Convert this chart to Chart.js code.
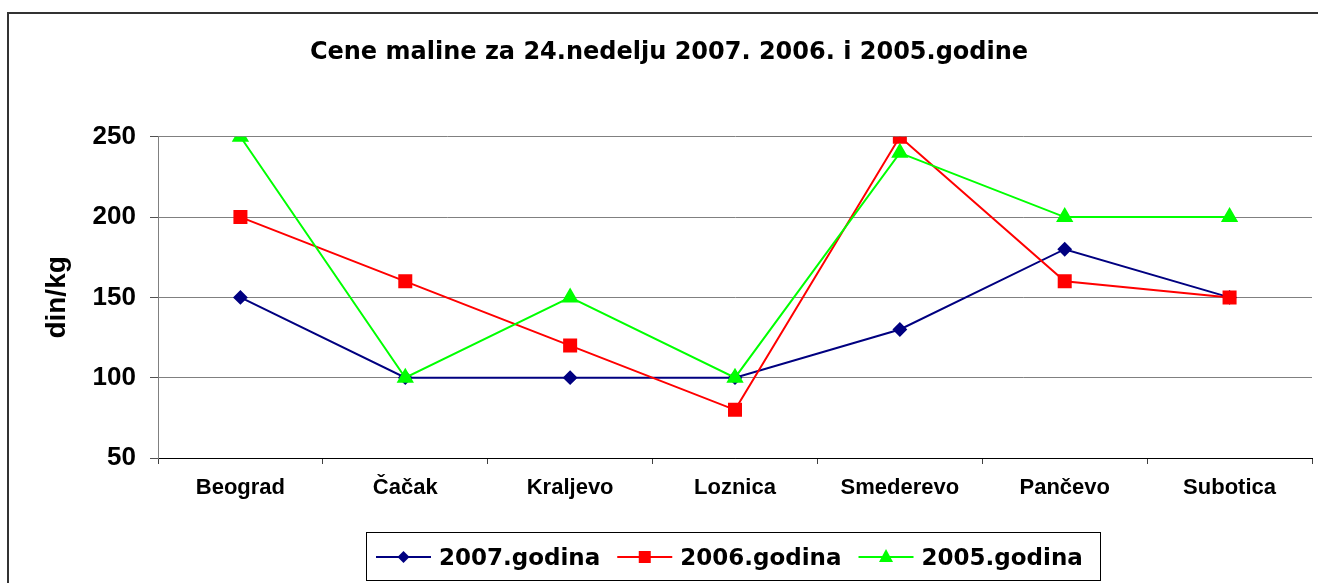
<!DOCTYPE html>
<html>
<head>
<meta charset="utf-8">
<title>Cene maline</title>
<script src="https://cdn.jsdelivr.net/npm/chart.js@4.4.1/dist/chart.umd.min.js"></script>
<style>
  html, body { margin: 0; padding: 0; background: #fff; overflow: hidden; }
  canvas { display: block; }
</style>
</head>
<body>
<canvas id="cene" width="1318" height="583"></canvas>
<script>
// data
var gradovi = ['Beograd', 'Čačak', 'Kraljevo', 'Loznica', 'Smederevo', 'Pančevo', 'Subotica'];
var god2007 = [150, 100, 100, 100, 130, 180, 150];
var god2006 = [200, 160, 120, 80, 250, 160, 150];
var god2005 = [250, 100, 150, 100, 240, 200, 200];
var yTicks = [50, 100, 150, 200, 250];

var ARIAL = "'Liberation Sans', Arial, sans-serif";
var DEJAVU = "'DejaVu Sans', sans-serif";

// outer frame + legend box with line/marker samples
var okvir = {
  id: 'okvir',
  afterDraw: function(chart) {
    var ctx = chart.ctx;
    ctx.save();
    ctx.strokeStyle = '#333';
    ctx.lineWidth = 2;
    ctx.strokeRect(8, 13, 1330, 600);

    // legend
    ctx.strokeStyle = '#000';
    ctx.lineWidth = 1;
    ctx.strokeRect(366.5, 532.5, 734, 48);
    ctx.font = 'bold 23px ' + DEJAVU;
    ctx.textBaseline = 'alphabetic';
    ctx.textAlign = 'left';
    var x = 376, y = 557;
    chart.data.datasets.forEach(function(ds) {
      ctx.strokeStyle = ds.borderColor;
      ctx.lineWidth = 2;
      ctx.beginPath();
      ctx.moveTo(x, y);
      ctx.lineTo(x + 55, y);
      ctx.stroke();
      var cx = x + 27.5;
      ctx.fillStyle = ds.borderColor;
      ctx.beginPath();
      if (ds.pointStyle === 'rectRot') {
        ctx.moveTo(cx, y - 6); ctx.lineTo(cx + 6, y); ctx.lineTo(cx, y + 6); ctx.lineTo(cx - 6, y);
      } else if (ds.pointStyle === 'rect') {
        ctx.rect(cx - 6, y - 6, 12, 12);
      } else {
        ctx.moveTo(cx, y - 8); ctx.lineTo(cx + 7, y + 5); ctx.lineTo(cx - 7, y + 5);
      }
      ctx.closePath();
      ctx.fill();
      x += 63;
      ctx.fillStyle = '#000';
      ctx.fillText(ds.label, x, 565);
      x += ctx.measureText(ds.label).width + 17;
    });
    ctx.restore();
  }
};

new Chart(document.getElementById('cene'), {
  type: 'line',
  data: {
    labels: gradovi,
    datasets: [{
      label: '2007.godina',
      data: god2007,
      borderColor: '#000080',
      backgroundColor: '#000080',
      pointStyle: 'rectRot',
      pointRadius: 6,
      borderWidth: 2,
      order: 3
    }, {
      label: '2006.godina',
      data: god2006,
      borderColor: '#FF0000',
      backgroundColor: '#FF0000',
      pointStyle: 'rect',
      pointRadius: 8.5,
      borderWidth: 2,
      order: 2
    }, {
      label: '2005.godina',
      data: god2005,
      borderColor: '#00FF00',
      backgroundColor: '#00FF00',
      pointStyle: 'triangle',
      pointRadius: 8,
      borderWidth: 2,
      order: 1
    }]
  },
  options: {
    responsive: false,
    animation: false,
    events: [],
    layout: { autoPadding: false, padding: { left: 26, right: 6, top: 0, bottom: 0 } },
    elements: {
      line: { tension: 0, fill: false },
      point: { borderWidth: 1, hoverRadius: 0 }
    },
    scales: {
      x: {
        offset: true,
        grid: { display: true, drawOnChartArea: false, drawTicks: true, tickLength: 6, color: '#404040', offset: true },
        border: { display: true, color: '#000', width: 1 },
        ticks: { color: '#000', font: { family: ARIAL, size: 22, weight: 'bold' }, padding: 11, maxRotation: 0, autoSkip: false },
        afterFit: function(s) { s.height = 125; }
      },
      y: {
        min: 50,
        max: 250,
        afterBuildTicks: function(s) { s.ticks = yTicks.map(function(v) { return { value: v }; }); },
        grid: {
          color: function(c) { return c.tick && c.tick.value === 50 ? '#000' : '#808080'; },
          tickColor: '#505050',
          tickLength: 8,
          lineWidth: 1
        },
        border: { display: true, color: '#808080', width: 1 },
        ticks: { color: '#000', font: { family: ARIAL, size: 26, weight: 'bold' }, padding: 14 },
        title: {
          display: true,
          text: 'din/kg',
          color: '#000',
          font: { family: ARIAL, size: 28, weight: 'bold' },
          padding: { top: 14.7, bottom: 0 }
        },
        afterFit: function(s) { s.width = 132; }
      }
    },
    plugins: {
      legend: { display: false },
      tooltip: { enabled: false },
      title: {
        display: true,
        text: 'Cene maline za 24.nedelju 2007. 2006. i 2005.godine',
        color: '#000',
        font: { family: DEJAVU, size: 24, weight: 'bold', lineHeight: 1.2 },
        padding: { top: 38, bottom: 70 }
      }
    }
  },
  plugins: [okvir]
});
</script>
</body>
</html>
